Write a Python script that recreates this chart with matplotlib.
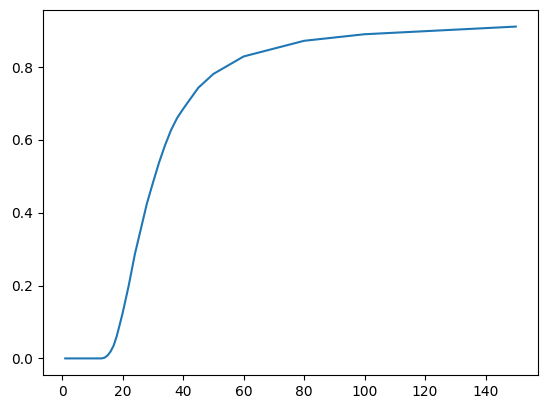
import matplotlib

matplotlib.use("Agg")
from matplotlib import pyplot as plt

# values
x = [1, 5, 10, 13, 14, 15, 16, 17, 18, 19, 20, 22, 24, 26, 28, 30,
     32, 34, 36, 38, 40, 45, 50, 60, 80, 100, 150]
y = [0.0, 0.0, 0.0, 0.0, 0.002, 0.008, 0.019, 0.035, 0.06, 0.092, 0.125,
     0.20, 0.285, 0.355, 0.425, 0.482, 0.537, 0.585, 0.627, 0.66, 0.685,
     0.743, 0.781, 0.829, 0.872, 0.89, 0.911]

W, H = 547, 413
fig = plt.figure(figsize=(W / 100, H / 100), dpi=100)
ax = fig.add_axes([42.7 / W, (H - 375) / H, 495.6 / W, 365 / H])
ax.plot(x, y)
fig.savefig("out.png")
plt.close(fig)
